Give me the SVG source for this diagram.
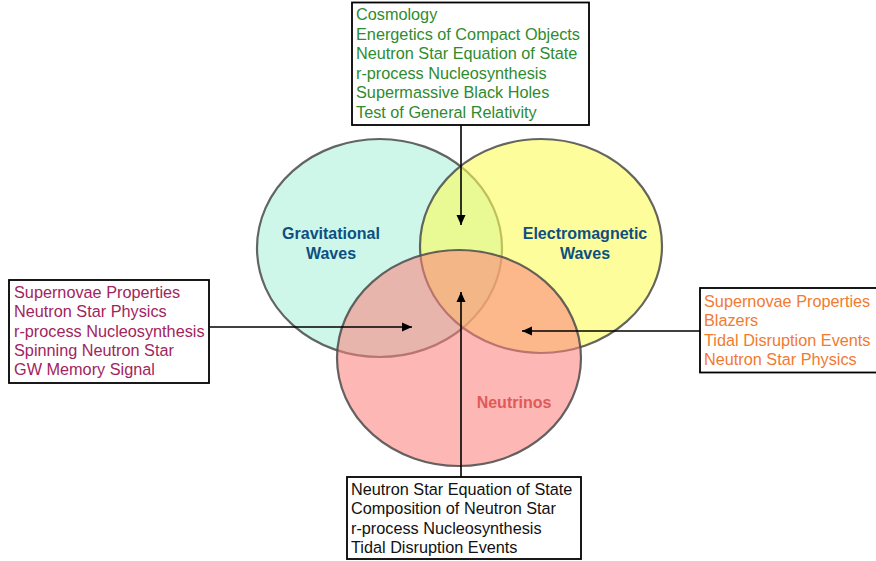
<svg xmlns="http://www.w3.org/2000/svg" width="876" height="561" viewBox="0 0 876 561">
<defs>
<style>
.set{stroke:#4a4a4a;stroke-width:2.2;stroke-opacity:0.85}
.lbl{font-family:"Liberation Sans",Arial,sans-serif;font-weight:bold;font-size:16px;text-anchor:middle}
.box{fill:#ffffff;stroke:#000000;stroke-width:1.8}
.txt{font-family:"Liberation Sans",Arial,sans-serif;font-size:16.25px}
.conn{stroke:#000000;stroke-width:1.6;fill:none;marker-end:url(#ah)}
</style>
<marker id="ah" viewBox="0 0 10 10" refX="10" refY="5" markerWidth="10" markerHeight="10" markerUnits="userSpaceOnUse" orient="auto">
<path d="M0,0.5 L10,5 L0,9.5 Z" fill="#000000"/>
</marker>
</defs>
<rect width="876" height="561" fill="#ffffff"/>
<g id="gravitational-waves">
<ellipse class="set" cx="379.5" cy="248" rx="122.5" ry="109" fill="#cef7ea"/>
</g>
<g id="electromagnetic-waves">
<ellipse class="set" cx="541" cy="246" rx="121" ry="107" fill="#fcfc5a" fill-opacity="0.6"/>
</g>
<g id="neutrinos">
<ellipse class="set" cx="459" cy="358" rx="122" ry="108" fill="#fb827c" fill-opacity="0.566"/>
</g>
<g id="set-labels">
<text class="lbl" x="331" y="238.5" fill="#0d4f80">Gravitational</text>
<text class="lbl" x="331" y="258.5" fill="#0d4f80">Waves</text>
<text class="lbl" x="585" y="238.5" fill="#0d4f80">Electromagnetic</text>
<text class="lbl" x="585" y="258.5" fill="#0d4f80">Waves</text>
<text class="lbl" x="514" y="407.5" fill="#e05a58">Neutrinos</text>
</g>
<g id="connectors">
<line class="conn" x1="461" y1="125" x2="461" y2="225"/>
<line class="conn" x1="461" y1="477" x2="461" y2="292"/>
<line class="conn" x1="210" y1="327" x2="412" y2="327"/>
<line class="conn" x1="700" y1="331" x2="522" y2="331"/>
</g>
<g id="gw-em-box">
<rect class="box" x="352" y="2.5" width="237" height="122.5"/>
<g class="txt" fill="#2e8b2e">
<text x="356" y="20">Cosmology</text>
<text x="356" y="39.5">Energetics of Compact Objects</text>
<text x="356" y="59">Neutron Star Equation of State</text>
<text x="356" y="78.5">r-process Nucleosynthesis</text>
<text x="356" y="98">Supermassive Black Holes</text>
<text x="356" y="117.5">Test of General Relativity</text>
</g>
</g>
<g id="gw-nu-box">
<rect class="box" x="9" y="280" width="200" height="103"/>
<g class="txt" fill="#a2245e">
<text x="14" y="298">Supernovae Properties</text>
<text x="14" y="317.3">Neutron Star Physics</text>
<text x="14" y="336.6">r-process Nucleosynthesis</text>
<text x="14" y="355.9">Spinning Neutron Star</text>
<text x="14" y="375.2">GW Memory Signal</text>
</g>
</g>
<g id="em-nu-box">
<rect class="box" x="700" y="288" width="180" height="84.5"/>
<g class="txt" fill="#f27a30">
<text x="704" y="307">Supernovae Properties</text>
<text x="704" y="326.3">Blazers</text>
<text x="704" y="345.6">Tidal Disruption Events</text>
<text x="704" y="364.9">Neutron Star Physics</text>
</g>
</g>
<g id="nu-box">
<rect class="box" x="347" y="477" width="234" height="82"/>
<g class="txt" fill="#111111">
<text x="351" y="495">Neutron Star Equation of State</text>
<text x="351" y="514.3">Composition of Neutron Star</text>
<text x="351" y="533.6">r-process Nucleosynthesis</text>
<text x="351" y="552.9">Tidal Disruption Events</text>
</g>
</g>
</svg>
